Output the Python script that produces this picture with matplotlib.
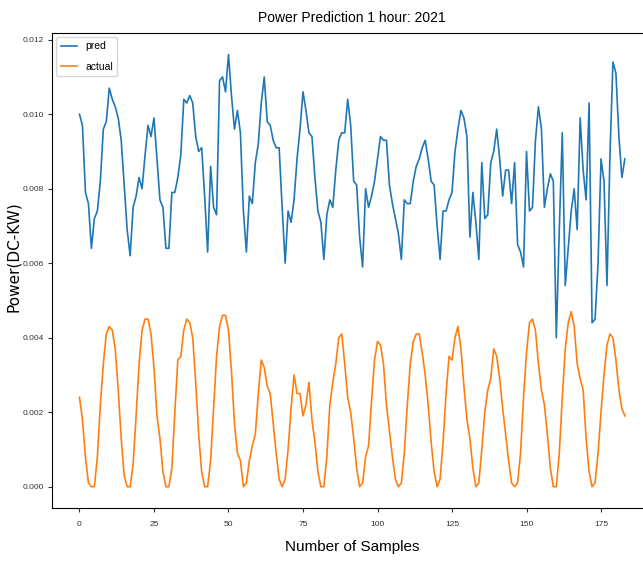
import matplotlib
matplotlib.use("Agg")
import matplotlib.pyplot as plt
from matplotlib import font_manager
import numpy as np

pred = [
    0.0100, 0.0097, 0.0079, 0.0076, 0.0064, 0.0072, 0.0074, 0.0082, 0.0096, 0.0098,
    0.0107, 0.0104, 0.0102, 0.0099, 0.0093, 0.0081, 0.0069, 0.0062, 0.0075, 0.0078,
    0.0083, 0.0080, 0.0089, 0.0097, 0.0094, 0.0099, 0.0088, 0.0077, 0.0075, 0.0064,
    0.0064, 0.0079, 0.0079, 0.0083, 0.0089, 0.0104, 0.0103, 0.0105, 0.0103, 0.0094,
    0.0090, 0.0091, 0.0078, 0.0063, 0.0086, 0.0075, 0.0073, 0.0109, 0.0110, 0.0106,
    0.0116, 0.0105, 0.0096, 0.0101, 0.0095, 0.0074, 0.0063, 0.0078, 0.0076, 0.0087,
    0.0092, 0.0103, 0.0110, 0.0098, 0.0097, 0.0093, 0.0091, 0.0091, 0.0075, 0.0060,
    0.0074, 0.0071, 0.0077, 0.0088, 0.0096, 0.0106, 0.0101, 0.0095, 0.0094, 0.0083,
    0.0074, 0.0071, 0.0061, 0.0073, 0.0077, 0.0075, 0.0085, 0.0093, 0.0095, 0.0095,
    0.0104, 0.0097, 0.0082, 0.0081, 0.0067, 0.0059, 0.0080, 0.0075, 0.0078, 0.0082,
    0.0088, 0.0094, 0.0093, 0.0093, 0.0081, 0.0076, 0.0072, 0.0068, 0.0061, 0.0077,
    0.0076, 0.0076, 0.0082, 0.0086, 0.0088, 0.0091, 0.0093, 0.0088, 0.0082, 0.0081,
    0.0070, 0.0061, 0.0074, 0.0074, 0.0077, 0.0079, 0.0090, 0.0096, 0.0101, 0.0099,
    0.0094, 0.0067, 0.0079, 0.0071, 0.0061, 0.0087, 0.0072, 0.0073, 0.0087, 0.0090,
    0.0096, 0.0088, 0.0078, 0.0085, 0.0085, 0.0076, 0.0087, 0.0065, 0.0063, 0.0059,
    0.0090, 0.0074, 0.0075, 0.0093, 0.0102, 0.0096, 0.0075, 0.0080, 0.0084, 0.0082,
    0.0040, 0.0069, 0.0095, 0.0054, 0.0064, 0.0074, 0.0080, 0.0069, 0.0099, 0.0085,
    0.0077, 0.0103, 0.0044, 0.0045, 0.0060, 0.0088, 0.0082, 0.0054, 0.0089, 0.0114,
    0.0111, 0.0094, 0.0083, 0.0088,
]

actual = [
    0.0024, 0.0018, 0.0008, 0.0001, 0.0000, 0.0000, 0.0008, 0.0022, 0.0033, 0.0041,
    0.0043, 0.0042, 0.0037, 0.0026, 0.0013, 0.0003, 0.0000, 0.0000, 0.0006, 0.0019,
    0.0033, 0.0042, 0.0045, 0.0045, 0.0041, 0.0032, 0.0019, 0.0013, 0.0004, 0.0000,
    0.0000, 0.0005, 0.0020, 0.0034, 0.0035, 0.0042, 0.0045, 0.0044, 0.0040, 0.0028,
    0.0014, 0.0004, 0.0000, 0.0000, 0.0007, 0.0021, 0.0035, 0.0043, 0.0046, 0.0046,
    0.0042, 0.0031, 0.0017, 0.0009, 0.0007, 0.0000, 0.0001, 0.0007, 0.0011, 0.0014,
    0.0025, 0.0034, 0.0032, 0.0027, 0.0025, 0.0017, 0.0009, 0.0002, 0.0000, 0.0002,
    0.0010, 0.0021, 0.0030, 0.0025, 0.0025, 0.0019, 0.0022, 0.0028, 0.0018, 0.0012,
    0.0004, 0.0000, 0.0000, 0.0008, 0.0022, 0.0028, 0.0033, 0.0040, 0.0041, 0.0033,
    0.0024, 0.0020, 0.0013, 0.0005, 0.0000, 0.0001, 0.0008, 0.0011, 0.0023, 0.0034,
    0.0039, 0.0038, 0.0033, 0.0022, 0.0015, 0.0008, 0.0002, 0.0000, 0.0001, 0.0009,
    0.0022, 0.0033, 0.0039, 0.0041, 0.0041, 0.0036, 0.0030, 0.0022, 0.0012, 0.0004,
    0.0000, 0.0002, 0.0012, 0.0025, 0.0035, 0.0034, 0.0040, 0.0043, 0.0037, 0.0027,
    0.0018, 0.0013, 0.0005, 0.0000, 0.0001, 0.0010, 0.0020, 0.0026, 0.0029, 0.0037,
    0.0035, 0.0029, 0.0021, 0.0014, 0.0007, 0.0001, 0.0000, 0.0001, 0.0009, 0.0024,
    0.0036, 0.0044, 0.0045, 0.0042, 0.0033, 0.0026, 0.0022, 0.0014, 0.0005, 0.0000,
    0.0000, 0.0009, 0.0024, 0.0037, 0.0044, 0.0047, 0.0043, 0.0033, 0.0029, 0.0026,
    0.0013, 0.0004, 0.0000, 0.0001, 0.0009, 0.0020, 0.0030, 0.0038, 0.0041, 0.0040,
    0.0034, 0.0026, 0.0021, 0.0019,
]

title = "Power Prediction 1 hour: 2021"
xlabel = "Number of Samples"
ylabel = "Power(DC-KW)"
xticks = [0, 25, 50, 75, 100, 125, 150, 175]
yticks = [0.000, 0.002, 0.004, 0.006, 0.008, 0.010, 0.012]

names = {f.name for f in font_manager.fontManager.ttflist}
narrow = "Liberation Sans Narrow" if "Liberation Sans Narrow" in names else "Liberation Sans"

fig = plt.figure(figsize=(6.43, 5.65), dpi=100)
ax = fig.add_axes([0.0812, 0.1004, 0.933, 0.8412])

x = np.arange(len(pred))
ax.plot(x, pred, color="#1f77b4", lw=1.2, label="pred")
ax.plot(x, actual, color="#ff7f0e", lw=1.2, label="actual")

ax.set_xticks(xticks)
ax.set_yticks(yticks)
ax.set_yticklabels([f"{v:.3f}" for v in yticks])
for lab in ax.get_xticklabels() + ax.get_yticklabels():
    lab.set_fontfamily(narrow)
    lab.set_fontsize(6)
ax.tick_params(axis="x", length=3, width=0.8, pad=6, colors="#333333")
ax.tick_params(axis="y", length=3, width=0.8, pad=3, colors="#333333")

ax.set_title(title, family=narrow, fontsize=10, pad=8)
ax.set_xlabel(xlabel, family=narrow, fontsize=11, labelpad=9)
ax.set_ylabel(ylabel, family="DejaVu Sans", fontsize=11)
ax.yaxis.set_label_coords(-0.052, 0.53)

ax.legend(loc="upper left", prop={"family": narrow, "size": 7.5},
          handlelength=1.6, labelspacing=1.0, borderaxespad=0.4)

fig.savefig("out.png", dpi=100)
